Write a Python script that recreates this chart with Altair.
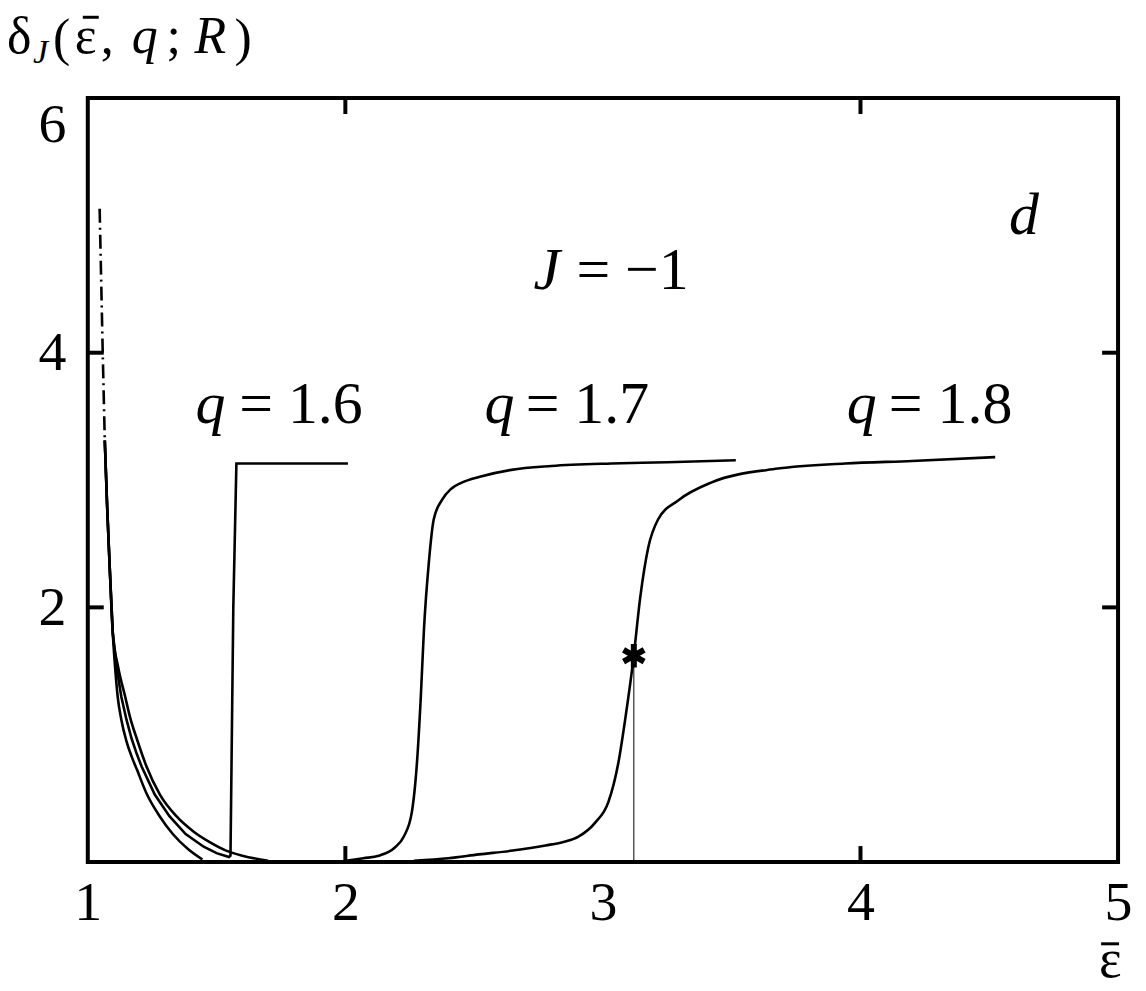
import altair as alt
import pandas as pd

# ---------------- data ----------------
# descending branches near eps ~ 1
desc_inner_x = [1.066, 1.075, 1.085, 1.097, 1.106, 1.116, 1.13, 1.15, 1.17, 1.19, 1.23, 1.279, 1.33, 1.39, 1.445]
desc_inner_y = [3.31, 2.80, 2.32, 1.80, 1.53, 1.30, 1.12, 0.95, 0.83, 0.73, 0.53, 0.36, 0.22, 0.10, 0.02]

q16_x = [1.066, 1.075, 1.085, 1.097, 1.112, 1.13, 1.15, 1.17, 1.19, 1.209, 1.26, 1.317, 1.38, 1.45, 1.50, 1.548,
         1.554, 1.565, 1.577, 2.01]
q16_y = [3.31, 2.80, 2.32, 1.80, 1.53, 1.30, 1.12, 0.97, 0.85, 0.75, 0.53, 0.36, 0.22, 0.12, 0.07, 0.04,
         0.05, 2.00, 3.13, 3.13]

desc_outer_x = [1.066, 1.075, 1.085, 1.097, 1.118, 1.145, 1.165, 1.19, 1.228, 1.28, 1.344, 1.41, 1.47, 1.537, 1.60, 1.70]
desc_outer_y = [3.31, 2.80, 2.32, 1.80, 1.53, 1.30, 1.13, 0.97, 0.75, 0.53, 0.36, 0.24, 0.16, 0.09, 0.05, 0.01]

q17_x = [2.003, 2.07, 2.13, 2.19, 2.227, 2.258, 2.278, 2.293, 2.305, 2.324, 2.343, 2.374, 2.41, 2.452,
         2.53, 2.645, 2.8, 3.033, 3.25, 3.516]
q17_y = [0.01, 0.03, 0.05, 0.11, 0.20, 0.39, 0.78, 1.30, 1.82, 2.35, 2.69, 2.84, 2.93, 2.98,
         3.03, 3.08, 3.11, 3.13, 3.14, 3.156]

q18_x = [2.266, 2.4, 2.518, 2.65, 2.777, 2.85, 2.905, 2.97, 3.021, 3.06, 3.09, 3.118, 3.145, 3.176,
         3.214, 3.292, 3.42, 3.679, 3.94, 4.2, 4.523]
q18_y = [0.01, 0.03, 0.06, 0.09, 0.13, 0.16, 0.20, 0.31, 0.47, 0.78, 1.17, 1.59, 2.08, 2.47,
         2.69, 2.84, 2.98, 3.09, 3.13, 3.15, 3.18]

dashdot_x = [1.046, 1.058, 1.066]
dashdot_y = [5.13, 4.0, 3.31]

star_x = [3.12]
star_y = [1.62]

x_ticks = [1, 2, 3, 4, 5]
y_ticks = [2, 4, 6]
inner_x_ticks = [2, 4]
inner_y_ticks = [2, 4]

# annotation texts (data coordinates of left edge / baseline)
ital_text = ["q", "q", "q", "J", "d"]
ital_x = [1.418, 2.540, 3.947, 2.730, 4.577]
ital_y = [3.445, 3.445, 3.445, 4.50, 4.93]
up_text = ["= 1.6", "= 1.7", "= 1.8", "= \u22121"]
up_x = [1.588, 2.700, 4.110, 2.897]
up_y = [3.445, 3.445, 3.445, 4.50]

W, H = 1033, 766
FONT = "Liberation Serif"

rows = []
for name, xs_, ys_ in [("inner", desc_inner_x, desc_inner_y), ("outer", desc_outer_x, desc_outer_y),
                       ("q17", q17_x, q17_y), ("q18", q18_x, q18_y)]:
    for i, (a, b) in enumerate(zip(xs_, ys_)):
        rows.append({"series": name, "order": i, "x": a, "y": b})
curves = pd.DataFrame(rows)
q16_df = pd.DataFrame({"x": q16_x, "y": q16_y, "order": range(len(q16_x))})
dd = pd.DataFrame({"x": dashdot_x, "y": dashdot_y, "order": range(len(dashdot_x))})
star = pd.DataFrame({"x": star_x, "y": star_y})
ital = pd.DataFrame({"x": ital_x, "y": ital_y, "t": ital_text})
up = pd.DataFrame({"x": up_x, "y": up_y, "t": up_text})

xs = alt.Scale(domain=[1, 5], nice=False, zero=False)
ys = alt.Scale(domain=[0, 6], nice=False, zero=False)

X = alt.X("x:Q", scale=xs, axis=alt.Axis(values=x_ticks, ticks=False, domain=False, grid=False,
                                          title=None, labelFont=FONT, labelFontSize=56,
                                          labelPadding=14, labelFlush=False, labelOverlap=False,
                                          labelColor="black", format="d"))
Y = alt.Y("y:Q", scale=ys, axis=alt.Axis(values=y_ticks, ticks=False, domain=False, grid=False,
                                          title=None, labelFont=FONT, labelFontSize=56,
                                          labelPadding=22, labelOverlap=False, labelColor="black",
                                          labelBaseline={"condition": {"test": "datum.value === 6",
                                                                       "value": "top"},
                                                         "value": "middle"},
                                          format="d"))

lines = alt.Chart(curves).mark_line(color="black", strokeWidth=2.6, interpolate="monotone").encode(
    x=X, y=Y, detail="series:N", order="order:Q")

q16_line = alt.Chart(q16_df).mark_line(color="black", strokeWidth=2.6).encode(
    x=alt.X("x:Q", scale=xs), y=alt.Y("y:Q", scale=ys), order="order:Q")

dash = alt.Chart(dd).mark_line(color="black", strokeWidth=2.6, strokeDash=[14, 5, 2, 5]).encode(
    x=alt.X("x:Q", scale=xs), y=alt.Y("y:Q", scale=ys), order="order:Q")

drop = alt.Chart(star).mark_rule(color="black", strokeWidth=1).encode(
    x=alt.X("x:Q", scale=xs), y=alt.Y("y:Q", scale=ys), y2=alt.datum(0))

star_path = "M0,-1L0,1M-0.87,-0.5L0.87,0.5M-0.87,0.5L0.87,-0.5"
star_mark = alt.Chart(star).mark_point(shape=star_path, filled=False, color="black",
                                       strokeWidth=6, size=560, opacity=1).encode(
    x=alt.X("x:Q", scale=xs), y=alt.Y("y:Q", scale=ys))

ital_mark = alt.Chart(ital).mark_text(font=FONT, fontStyle="italic", fontSize=60, align="left",
                                      baseline="alphabetic", color="black").encode(
    x=alt.X("x:Q", scale=xs), y=alt.Y("y:Q", scale=ys), text="t:N")
up_mark = alt.Chart(up).mark_text(font=FONT, fontSize=60, align="left",
                                  baseline="alphabetic", color="black").encode(
    x=alt.X("x:Q", scale=xs), y=alt.Y("y:Q", scale=ys), text="t:N")

# inward ticks
tx = pd.DataFrame({"x": inner_x_ticks})
ty = pd.DataFrame({"y": inner_y_ticks})
tick_b = alt.Chart(tx).mark_rule(color="black", strokeWidth=4).encode(
    x=alt.X("x:Q", scale=xs), y=alt.value(H), y2=alt.value(H - 16))
tick_t = alt.Chart(tx).mark_rule(color="black", strokeWidth=4).encode(
    x=alt.X("x:Q", scale=xs), y=alt.value(0), y2=alt.value(16))
tick_l = alt.Chart(ty).mark_rule(color="black", strokeWidth=4).encode(
    y=alt.Y("y:Q", scale=ys), x=alt.value(0), x2=alt.value(16))
tick_r = alt.Chart(ty).mark_rule(color="black", strokeWidth=4).encode(
    y=alt.Y("y:Q", scale=ys), x=alt.value(W), x2=alt.value(W - 16))

# titles outside plot area (pixel positions relative to plot origin)
ox, oy = 88, 97
def ptxt(s, px, py, size, style="normal"):
    return alt.Chart(pd.DataFrame({"t": [s]})).mark_text(
        font=FONT, fontSize=size, fontStyle=style, align="left", baseline="alphabetic",
        color="black").encode(x=alt.value(px - ox), y=alt.value(py - oy), text="t:N")

title_parts = [
    ptxt("\u03b4", 7, 52, 52),
    ptxt("J", 33, 62, 34, "italic"),
    ptxt("(", 53, 54, 52),
    ptxt("\u03b5", 75, 52, 52),
    ptxt(",", 101, 52, 52),
    ptxt("q", 132, 52, 52, "italic"),
    ptxt(";", 167, 52, 52),
    ptxt("R", 195, 52, 52, "italic"),
    ptxt(")", 235, 54, 52),
    ptxt("\u03b5", 1102, 978, 54),
]
bar1 = alt.Chart(pd.DataFrame({"a": [0]})).mark_rule(color="black", strokeWidth=3).encode(
    x=alt.value(83 - ox), x2=alt.value(99 - ox), y=alt.value(16 - oy))
bar2 = alt.Chart(pd.DataFrame({"a": [0]})).mark_rule(color="black", strokeWidth=3).encode(
    x=alt.value(1104 - ox), x2=alt.value(1122 - ox), y=alt.value(945 - oy))

chart = alt.layer(
    lines, q16_line, dash, drop, star_mark, ital_mark, up_mark,
    tick_b, tick_t, tick_l, tick_r, *title_parts, bar1, bar2
).properties(
    width=W, height=H,
    padding={"left": 80, "top": 89, "right": 20, "bottom": 125},
    autosize=alt.AutoSizeParams(type="none"),
).configure(
    background="white",
    view=alt.ViewConfig(stroke="black", strokeWidth=4),
)

chart.save("out.html", embed_options={"renderer": "svg", "actions": False})
